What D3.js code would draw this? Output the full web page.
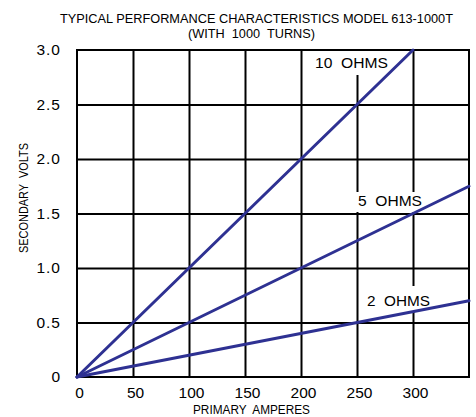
<!DOCTYPE html>
<html><head><meta charset="utf-8">
<script src="https://cdn.jsdelivr.net/npm/d3@7"></script>
<style>
html,body{margin:0;padding:0;background:#fff;}
svg text{font-family:"Liberation Sans",Arial,sans-serif;fill:#000;}
</style></head>
<body>
<svg id="c" width="476" height="417"></svg>
<script>
const titleLines = ["TYPICAL PERFORMANCE CHARACTERISTICS MODEL 613-1000T", "(WITH  1000  TURNS)"];
const xTitle = "PRIMARY  AMPERES";
const yTitle = "SECONDARY  VOLTS";
const xTicks = [0, 50, 100, 150, 200, 250, 300];
const xGrid = [50, 100, 150, 200, 250, 300];
const yTicks = [0, 0.5, 1.0, 1.5, 2.0, 2.5, 3.0];
const yTickLabels = ["0", "0.5", "1.0", "1.5", "2.0", "2.5", "3.0"];
const seriesNames = ["10  OHMS", "5  OHMS", "2  OHMS"];
const seriesAmps = [[0, 300], [0, 350], [0, 350]];
const seriesVolts = [[0, 3.0], [0, 1.75], [0, 0.70]];

const svg = d3.select("#c");
const L = 77, R = 469, T = 50, B = 377;
const x = d3.scaleLinear().domain([0, 350]).range([L, R]);
const y = d3.scaleLinear().domain([0, 3]).range([B, T]);

// fit a text's font size so its natural width equals w
function fit(sel, w, maxSize) {
  const len = sel.node().getComputedTextLength();
  const fs = parseFloat(sel.attr("font-size"));
  sel.attr("font-size", Math.min(maxSize, fs * w / len));
  return sel;
}

// grid via axes
const gx = svg.append("g").attr("transform", `translate(0,${B})`)
  .call(d3.axisBottom(x).tickValues(xGrid).tickSize(-(B - T)).tickFormat(""));
const gy = svg.append("g").attr("transform", `translate(${L},0)`)
  .call(d3.axisLeft(y).tickValues(yTicks.slice(1, -1)).tickSize(-(R - L)).tickFormat(""));
[gx, gy].forEach(g => {
  g.select(".domain").remove();
  g.selectAll("line").attr("stroke", "#000").attr("stroke-width", 2);
});
svg.append("rect").attr("x", L).attr("y", T).attr("width", R - L).attr("height", B - T)
  .attr("fill", "none").attr("stroke", "#000").attr("stroke-width", 2);

// label boxes (white backgrounds covering grid)
const labelPos = [
  {x: 315, y: 68, w: 73, box: [312, 51, 80, 24]},
  {x: 358, y: 206, w: 64, box: [355, 192, 70, 20]},
  {x: 367, y: 306, w: 63, box: [364, 286, 70, 26]}
];
labelPos.forEach(p => {
  svg.append("rect").attr("x", p.box[0]).attr("y", p.box[1]).attr("width", p.box[2]).attr("height", p.box[3]).attr("fill", "#fff");
});

// data lines
const line = d3.line().x(d => x(d[0])).y(d => y(d[1]));
seriesNames.forEach((n, i) => {
  const pts = seriesAmps[i].map((a, j) => [a, seriesVolts[i][j]]);
  svg.append("path").attr("d", line(pts)).attr("fill", "none")
    .attr("stroke", "#2e3192").attr("stroke-width", 3).attr("stroke-linecap", "round");
});

// series labels
seriesNames.forEach((n, i) => {
  const p = labelPos[i];
  svg.append("text").attr("x", p.x).attr("y", p.y).attr("font-size", 15)
    .attr("textLength", p.w).attr("lengthAdjust", "spacingAndGlyphs")
    .style("white-space", "pre").text(n);
});

// tick label axes
const ax = svg.append("g").attr("transform", `translate(0,${B})`)
  .call(d3.axisBottom(x).tickValues(xTicks).tickSize(0).tickPadding(10).tickFormat(d3.format("d")));
ax.select(".domain").remove();
ax.selectAll("text").attr("font-size", 15.5).attr("font-family", '"Liberation Sans",Arial,sans-serif')
  .attr("dy", "0.71em").attr("dx", 2).attr("fill", "#000");
const ay = svg.append("g").attr("transform", `translate(${L},0)`)
  .call(d3.axisLeft(y).tickValues(yTicks).tickSize(0).tickPadding(16).tickFormat((d, i) => yTickLabels[i]));
ay.select(".domain").remove();
ay.selectAll("text").attr("font-size", 15.5).attr("font-family", '"Liberation Sans",Arial,sans-serif')
  .attr("letter-spacing", 1).attr("fill", "#000");

// titles
fit(svg.append("text").attr("x", 256.5).attr("y", 23).attr("text-anchor", "middle").attr("font-size", 13)
  .style("white-space", "pre").text(titleLines[0]), 393, 14);
fit(svg.append("text").attr("x", 251.5).attr("y", 38).attr("text-anchor", "middle").attr("font-size", 13)
  .style("white-space", "pre").text(titleLines[1]), 127, 14);
svg.append("text").attr("x", 251.5).attr("y", 414).attr("text-anchor", "middle").attr("font-size", 12.5)
  .attr("textLength", 117).attr("lengthAdjust", "spacingAndGlyphs").style("white-space", "pre").text(xTitle);
svg.append("text").attr("transform", "translate(28,198) rotate(-90)").attr("text-anchor", "middle").attr("font-size", 13)
  .attr("textLength", 110).attr("lengthAdjust", "spacingAndGlyphs").style("white-space", "pre").text(yTitle);
</script>
</body></html>
